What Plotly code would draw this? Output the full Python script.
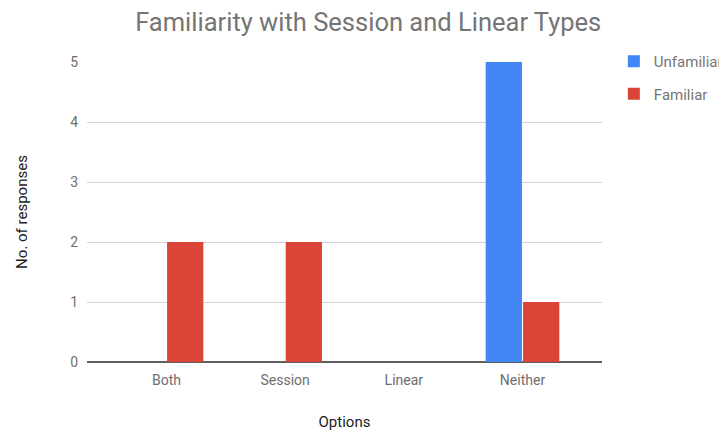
import plotly.graph_objects as go

categories = ["Both", "Session", "Linear", "Neither"]
unfamiliar = [0, 0, 0, 5]
familiar = [2, 2, 0, 1]
y_ticks = [0, 1, 2, 3, 4, 5]

fig = go.Figure()
fig.add_trace(go.Bar(x=categories, y=unfamiliar, name="Unfamiliar",
                     marker=dict(color="#4285F4", line=dict(width=0)), legendgroup="a"))
fig.add_trace(go.Bar(x=categories, y=familiar, name="Familiar",
                     marker=dict(color="#DB4437", line=dict(width=0)), legendgroup="b"))

fig.update_layout(
    width=719, height=424,
    margin=dict(l=79, r=125, t=54, b=70, autoexpand=False),
    paper_bgcolor="white", plot_bgcolor="white",
    font=dict(family="Roboto", color="#444444", size=14),
    title=dict(text="Familiarity with Session and Linear Types", x=0.501, xanchor="center",
               y=0.967, yanchor="middle", font=dict(size=25.5, color="#757575")),
    barmode="group", bargap=0.37, bargroupgap=0.03,
    showlegend=True,
    legend=dict(x=1.023, xanchor="left", y=1.057, yanchor="top",
                font=dict(size=15, color="#757575"), traceorder="grouped",
                tracegroupgap=10, bgcolor="rgba(0,0,0,0)"),
    xaxis=dict(range=[-0.67, 3.67], showgrid=False, ticks="", showline=False, automargin=False,
               tickfont=dict(size=14, color="#6e6e6e"), ticklabelstandoff=8,
               title=dict(text="Options", font=dict(size=15, color="#222222"), standoff=29)),
    yaxis=dict(range=[0, 5], tickvals=y_ticks, showgrid=True, gridcolor="#d4d4d4", automargin=False,
               zeroline=True, zerolinecolor="#5f5f5f", zerolinewidth=1.5,
               tickfont=dict(size=14, color="#6e6e6e"), ticks="", ticklabelstandoff=8,
               title=dict(text="No. of responses", font=dict(size=15, color="#222222"), standoff=38)),
)

fig.write_html("out.html")
